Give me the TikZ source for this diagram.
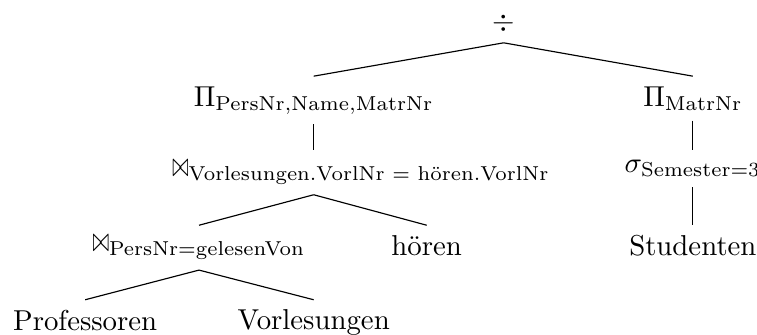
\documentclass[tikz,border=0pt]{standalone}
\usepackage{amsmath}
\newcommand{\joinop}{\mathord{\scalebox{0.68}[1.2]{$\bowtie$}}}
\begin{document}
\begin{tikzpicture}[op/.style={anchor=north}]
    \useasboundingbox (0,0) rectangle (9.243,-4.09);

    % Levels
    \pgfmathsetmacro{\la}{-0.04}
    \pgfmathsetmacro{\lb}{-0.93}
    \pgfmathsetmacro{\lc}{-1.83}
    \pgfmathsetmacro{\ld}{-2.75}
    \pgfmathsetmacro{\le}{-3.66}

    % Division and projections
    \node[op] (div) at (6.15,\la) {$\div$};
    \node[op] (p1) at (3.83,\lb) {$\Pi_{\text{PersNr},\text{Name},\text{MatrNr}}$};
    \node[op] (p2) at (8.46,\lb) {$\Pi_{\text{MatrNr}}$};

    % Joins and selection
    \node[op, anchor=north west] (j1) at (1.98,\lc) {$\joinop_{\text{Vorlesungen.VorlNr = hören.VorlNr}}$};
    \node[op] (s1) at (8.46,\lc) {$\sigma_{\text{Semester}=3}$};
    \node[op] (j2) at (2.43,\ld) {$\joinop_{\text{PersNr}=\text{gelesenVon}}$};
    \node[op] (h) at (5.21,\ld) {hören};
    \node[op] (st) at (8.46,\ld) {Studenten};

    % Relations
    \node[op] (prof) at (1.04,\le) {Professoren};
    \node[op] (vorl) at (3.83,\le) {Vorlesungen};

    % Edges
    \draw (div.south) -- (p1.north);
    \draw (div.south) -- (p2.north);
    \draw (p1.south) -- (p1.south |- j1.north);
    \draw (p2.south) -- (s1.north);
    \draw (s1.south) -- (st.north);
    \draw (j1.south -| p1.south) -- (j2.north);
    \draw (j1.south -| p1.south) -- (h.north);
    \draw (j2.south) -- (prof.north);
    \draw (j2.south) -- (vorl.north);
\end{tikzpicture}
\end{document}
